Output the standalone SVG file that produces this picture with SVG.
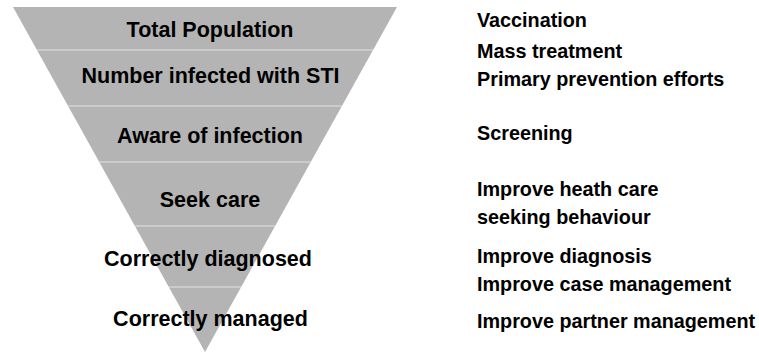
<svg xmlns="http://www.w3.org/2000/svg" width="759" height="352" viewBox="0 0 759 352">
<style>
.stage{font-family:"Liberation Sans",Arial,sans-serif;font-weight:bold;font-size:21.5px;fill:#000;text-anchor:middle}
.act{font-family:"Liberation Sans",Arial,sans-serif;font-weight:bold;font-size:19.8px;fill:#000}
.sep{stroke:#e2e2e2;stroke-width:1.2}
</style>
<rect width="759" height="352" fill="#fff"/>
<g id="funnel">
<polygon points="13,7 397,7 205,352" fill="#b4b4b4"/>
<line class="sep" x1="37" y1="50" x2="373" y2="50"/>
<line class="sep" x1="68" y1="106" x2="342" y2="106"/>
<line class="sep" x1="99.5" y1="162" x2="310.5" y2="162"/>
<line class="sep" x1="135" y1="226" x2="275" y2="226"/>
<line class="sep" x1="169" y1="287" x2="241" y2="287"/>
</g>
<g id="stage-total"><text class="stage" x="210" y="36.5">Total Population</text></g>
<g id="stage-infected"><text class="stage" x="210.5" y="83">Number infected with STI</text></g>
<g id="stage-aware"><text class="stage" x="210" y="143">Aware of infection</text></g>
<g id="stage-seek"><text class="stage" x="210" y="206.5">Seek care</text></g>
<g id="stage-diagnosed"><text class="stage" x="208" y="265.5">Correctly diagnosed</text></g>
<g id="stage-managed"><text class="stage" x="210.5" y="325.5">Correctly managed</text></g>
<g id="actions">
<text class="act" x="477" y="26.5">Vaccination</text>
<text class="act" x="477" y="57.5">Mass treatment</text>
<text class="act" x="477" y="86">Primary prevention efforts</text>
<text class="act" x="477" y="140">Screening</text>
<text class="act" x="477" y="196">Improve heath care</text>
<text class="act" x="477" y="224">seeking behaviour</text>
<text class="act" x="477" y="263">Improve diagnosis</text>
<text class="act" x="477" y="291">Improve case management</text>
<text class="act" x="477" y="328">Improve partner management</text>
</g>
</svg>
